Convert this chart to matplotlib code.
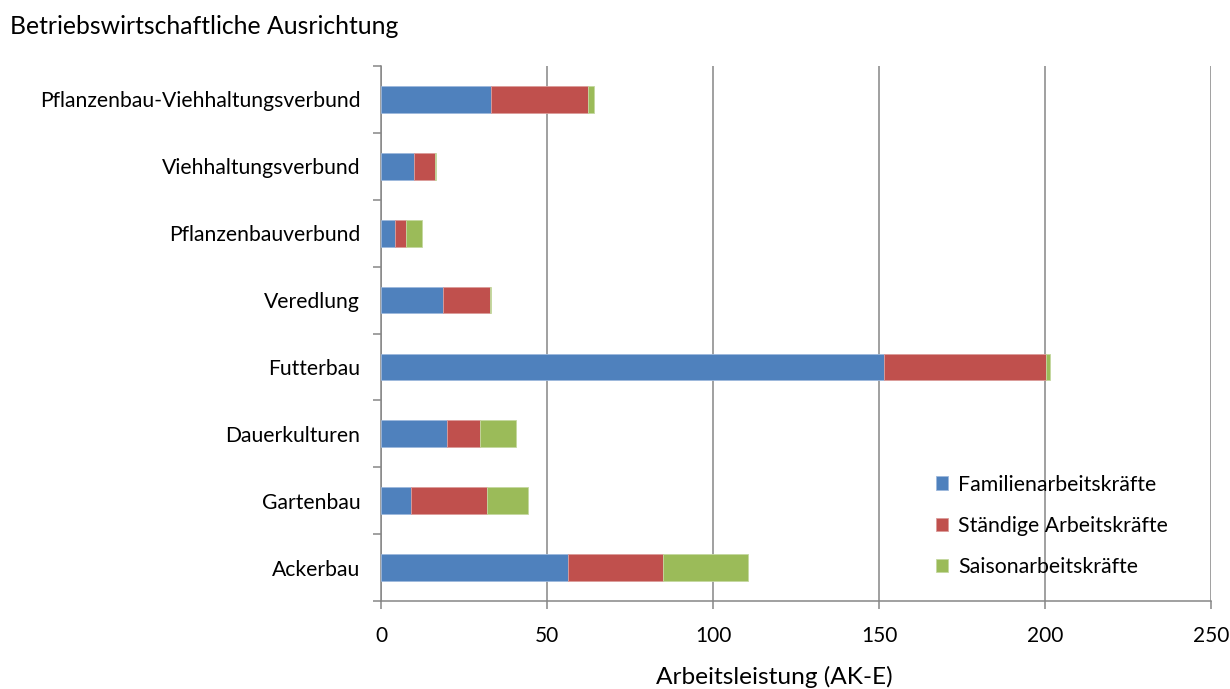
import matplotlib
matplotlib.use("Agg")
import matplotlib.pyplot as plt
import numpy as np

# data (AK-E)
categories = ['Ackerbau', 'Gartenbau', 'Dauerkulturen', 'Futterbau', 'Veredlung',
              'Pflanzenbauverbund', 'Viehhaltungsverbund', 'Pflanzenbau-Viehhaltungsverbund']
familie = [56.3, 9.1, 20.0, 151.4, 18.6, 4.2, 10.0, 33.0]
staendig = [28.7, 22.9, 9.9, 48.9, 14.1, 3.3, 6.2, 29.3]
saison = [25.4, 12.2, 10.8, 1.2, 0.4, 4.8, 0.3, 1.7]
series_names = ['Familienarbeitskräfte', 'Ständige Arbeitskräfte', 'Saisonarbeitskräfte']
x_ticks = [0, 50, 100, 150, 200, 250]

plt.rcParams['font.family'] = ['Lato', 'DejaVu Sans']

fig = plt.figure(figsize=(12.3, 6.89), dpi=100)
ax = fig.add_axes([0.3098, 0.1277, 0.6748, 0.7765])

grey = '#868686'
y = np.arange(len(categories))
left = np.zeros(len(categories))
colors = ['#4F81BD', '#C0504D', '#9BBB59']
edges = ['#9DB8DC', '#DB9C9A', '#C4D8A0']
for vals, name, c, e in zip([familie, staendig, saison], series_names, colors, edges):
    ax.barh(y, vals, left=left, height=0.4, color=c, edgecolor=e, linewidth=0.6,
            label=name, zorder=3)
    left = left + np.array(vals)

ax.set_xlim(0, 250)
ax.set_ylim(-0.5, len(categories) - 0.5)
ax.set_xticks(x_ticks)
ax.set_xticklabels([str(t) for t in x_ticks], fontsize=15)
ax.set_yticks(y)
ax.set_yticklabels(categories, fontsize=15.2)
ax.set_yticks(np.arange(-0.5, len(categories), 1), minor=True)
ax.tick_params(axis='y', which='major', length=0, pad=15)
ax.tick_params(axis='y', which='minor', length=6, width=1.1, color=grey, direction='out')
ax.tick_params(axis='x', length=6, width=1.1, color=grey, direction='out', pad=12)

ax.grid(axis='x', color=grey, linewidth=1.1, zorder=0)
for s in ['top', 'right']:
    ax.spines[s].set_visible(False)
for s in ['left', 'bottom']:
    ax.spines[s].set_color(grey)
    ax.spines[s].set_linewidth(1.1)

ax.set_xlabel('Arbeitsleistung (AK-E)', fontsize=17.6, labelpad=14.5, x=0.4735)
fig.text(0.008, 0.962, 'Betriebswirtschaftliche Ausrichtung', fontsize=17.8, va='center', ha='left')

leg = ax.legend(loc='lower right', bbox_to_anchor=(0.971, 0.009), frameon=False, fontsize=15.3,
                handlelength=0.6, handleheight=0.6, handletextpad=0.45, labelspacing=1.0)

fig.savefig('out.png', dpi=100)
